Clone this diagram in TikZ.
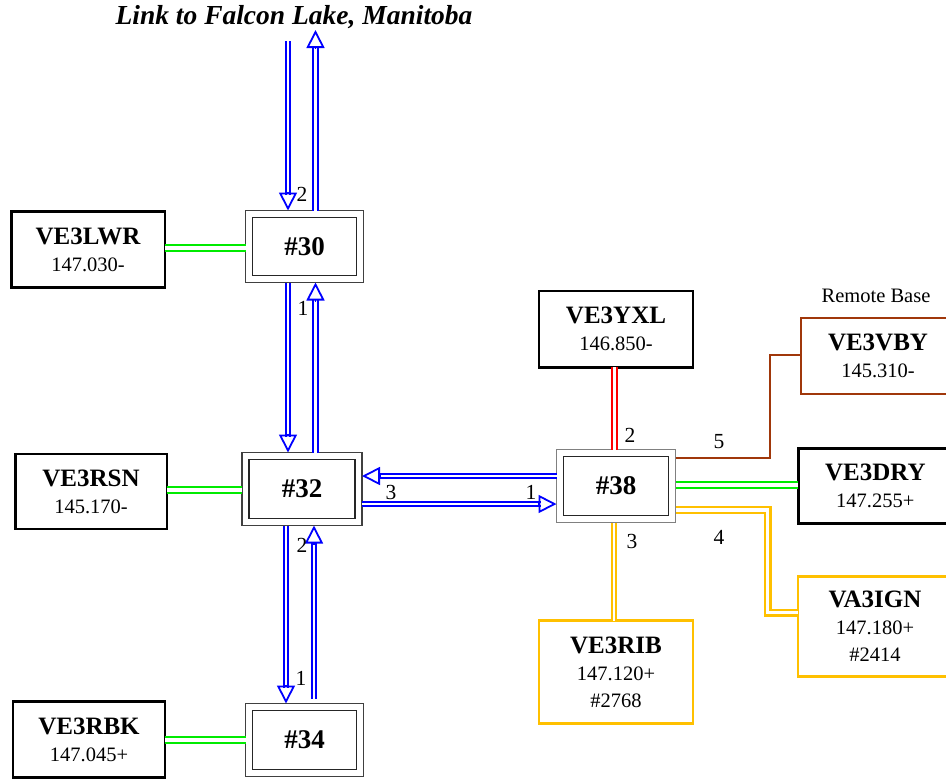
\documentclass[tikz,border=0pt]{standalone}
\usepackage{fontspec}
\setmainfont{Liberation Serif}
\usetikzlibrary{arrows.meta,calc}
\definecolor{cgreen}{RGB}{0,235,0}
\definecolor{cred}{RGB}{255,0,0}
\definecolor{cgold}{RGB}{255,192,0}
\definecolor{cbrown}{RGB}{160,55,10}
\definecolor{cblue}{RGB}{0,0,255}
\newcommand\stname[1]{{\fontsize{25}{27}\selectfont\bfseries #1}}
\newcommand\blarrow[2]{%
  \draw[bldbl, shorten >=16pt] (#1) -- (#2);
  \draw[bltip] ($(#2)!19pt!(#1)$) -- (#2);}
\begin{document}
\begin{tikzpicture}[x=1pt,y=-1pt,
  station/.style={draw=black, line width=2.5pt, fill=white, inner sep=0pt, outer sep=0pt,
    align=center, font=\fontsize{20.5}{27}\selectfont},
  hub/.style={draw=black!75, line width=1.2pt, fill=white, inner sep=0pt, outer sep=0pt,
    font=\fontsize{27}{30}\selectfont\bfseries},
  hubin/.style={draw=black!85, line width=1.4pt},
  lbl/.style={inner sep=0pt, font=\fontsize{21.5}{21.5}\selectfont},
  gdbl/.style={draw=cgreen, double=white, line width=2.1pt, double distance=4.2pt},
  rdbl/.style={draw=cred, double=white, line width=2pt, double distance=2.2pt},
  ydbl/.style={draw=cgold, double=white, line width=2.1pt, double distance=2.2pt},
  ydblw/.style={draw=cgold, double=white, line width=2.1pt, double distance=3.8pt},
  brn/.style={draw=cbrown, line width=2.4pt},
  bldbl/.style={draw=cblue, double=white, line width=1.8pt, double distance=2.6pt},
  bltip/.style={draw=cblue, line width=1.8pt, -{Triangle[open,length=18pt,width=18pt]}},
]
\useasboundingbox (0,0) rectangle (946,780);
\clip (0,0) rectangle (946,780);

% title
\node[inner sep=0pt] (title) at (294,17) {\fontsize{27.5}{30}\selectfont\bfseries\itshape Link to Falcon Lake, Manitoba};

% hubs
\node[hub, minimum width=118pt, minimum height=72pt] (h30) at (304.5,246.5) {\#30};
\node[hub, minimum width=120pt, minimum height=73pt] (h32) at (302,489) {\#32};
\node[hub, minimum width=118pt, minimum height=73pt] (h34) at (304.5,740) {\#34};
\node[hub, draw=black!50, minimum width=119pt, minimum height=73pt] (h38) at (616,486) {\#38};
\foreach \h in {h30,h32,h34,h38}
  \draw[hubin] ($(\h.north west)+(7,7)$) rectangle ($(\h.south east)+(-7,-7)$);

% stations
\node[station, minimum width=153.5pt, minimum height=76pt] (LWR) at (88,249.5) {\stname{VE3LWR}\\147.030-};
\node[station, minimum width=151.5pt, minimum height=75pt] (RSN) at (91,491.5) {\stname{VE3RSN}\\145.170-};
\node[station, minimum width=152.3pt, minimum height=76pt] (RBK) at (89,739.7) {\stname{VE3RBK}\\147.045+};
\node[station, minimum width=154pt, minimum height=76.5pt] (YXL) at (616,329) {\stname{VE3YXL}\\146.850-};
\node[station, draw=cbrown, line width=2.4pt, minimum width=154pt, minimum height=76pt] (VBY) at (878,356) {\stname{VE3VBY}\\145.310-};
\node[station, minimum width=154pt, minimum height=75pt] (DRY) at (875.3,485.8) {\stname{VE3DRY}\\147.255+};
\node[station, draw=cgold, line width=2.4pt, minimum width=154pt, minimum height=103pt] (RIB) at (616,672) {\stname{VE3RIB}\\147.120+\\\#2768};
\node[station, draw=cgold, line width=2.4pt, minimum width=154pt, minimum height=100pt] (IGN) at (875,626.5) {\stname{VA3IGN}\\147.180+\\\#2414};
\node[lbl, font=\fontsize{20.5}{20.5}\selectfont] (rb) at (876,296) {Remote Base};

% helper coordinates
\coordinate (fdn) at (288,41);
\coordinate (fup) at (315.5,30);
\coordinate (xa) at (286,0);
\coordinate (xb) at (314,0);
\coordinate (ya) at (0,476);
\coordinate (yb) at (0,504);
\coordinate (g30) at (0,248);
\coordinate (g32) at (0,490);
\coordinate (g34) at (0,740);
\coordinate (g38) at (0,485);
\coordinate (xr) at (614.5,0);
\coordinate (xy) at (614,0);
\coordinate (by) at (0,458);
\coordinate (bk) at (770,355);
\coordinate (yy) at (0,510);
\coordinate (yk) at (767.5,612.5);

% green links
\draw[gdbl] (LWR.east |- g30) -- (h30.west |- g30);
\draw[gdbl] (RSN.east |- g32) -- (h32.west |- g32);
\draw[gdbl] (RBK.east |- g34) -- (h34.west |- g34);
\draw[gdbl] (h38.east |- g38) -- (DRY.west |- g38);
% red link
\draw[rdbl] (YXL.south -| xr) -- (h38.north -| xr);
% yellow links
\draw[ydbl] (h38.south -| xy) -- (RIB.north -| xy);
\draw[ydblw] (h38.east |- yy) -| (yk) -- (IGN.west |- yk);
% brown link
\draw[brn] (h38.east |- by) -| (bk) -- (VBY.west |- bk);

% blue links
\coordinate (t30a) at (h30.north -| fdn);
\coordinate (t30b) at (h30.north -| fup);
\blarrow{fdn}{t30a}
\blarrow{t30b}{fup}
\coordinate (s30a) at (h30.south -| fdn);
\coordinate (n32a) at (h32.north -| fdn);
\coordinate (s30b) at (h30.south -| fup);
\coordinate (n32b) at (h32.north -| fup);
\blarrow{s30a}{n32a}
\blarrow{n32b}{s30b}
\coordinate (s32a) at (h32.south -| xa);
\coordinate (n34a) at (h34.north -| xa);
\coordinate (s32b) at (h32.south -| xb);
\coordinate (n34b) at ($(h34.north -| xb)+(0,-5)$);
\blarrow{s32a}{n34a}
\blarrow{n34b}{s32b}
\coordinate (w38a) at (h38.west |- ya);
\coordinate (e32a) at (h32.east |- ya);
\coordinate (e32b) at (h32.east |- yb);
\coordinate (w38b) at (h38.west |- yb);
\blarrow{w38a}{e32a}
\blarrow{e32b}{w38b}

% labels
\node[lbl] (l1) at (302,194) {2};
\node[lbl] (l2) at (303,308) {1};
\node[lbl] (l3) at (302,545) {2};
\node[lbl] (l4) at (301,678) {1};
\node[lbl] (l5) at (391,492) {3};
\node[lbl] (l6) at (531,492) {1};
\node[lbl] (l7) at (630,435) {2};
\node[lbl] (l8) at (719,442) {5};
\node[lbl] (l9) at (632,541) {3};
\node[lbl] (l10) at (719,537) {4};
\end{tikzpicture}
\end{document}
